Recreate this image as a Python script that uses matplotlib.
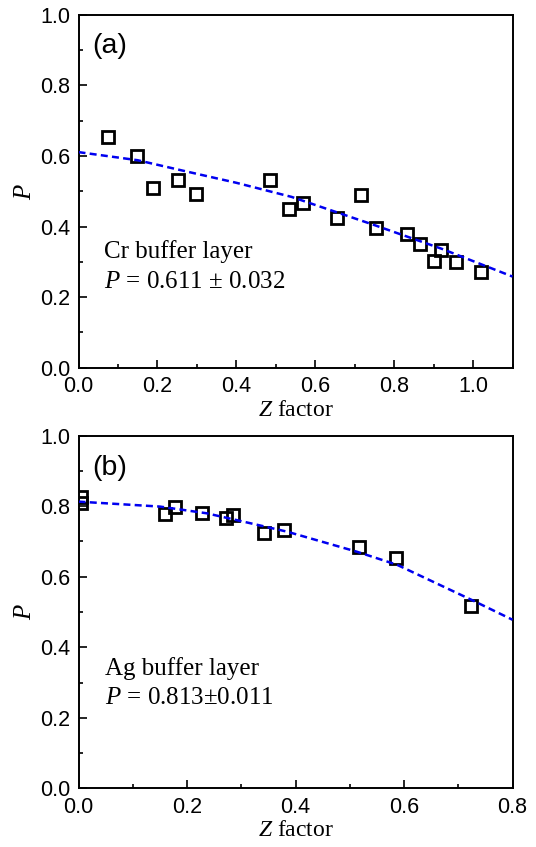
import matplotlib
matplotlib.use("Agg")
import matplotlib.pyplot as plt
from matplotlib.ticker import MultipleLocator

plt.rcParams['mathtext.fontset'] = 'custom'
plt.rcParams['mathtext.rm'] = 'Liberation Serif'
plt.rcParams['mathtext.it'] = 'Liberation Serif:italic'
plt.rcParams['font.family'] = ['Liberation Sans', 'DejaVu Sans']

# ---- Panel (a): Cr buffer layer ----
z_cr = [0.074, 0.149, 0.188, 0.253, 0.298, 0.486, 0.534, 0.568, 0.655,
        0.716, 0.755, 0.832, 0.865, 0.902, 0.919, 0.956, 1.019]
p_cr = [0.655, 0.600, 0.509, 0.533, 0.492, 0.531, 0.450, 0.468, 0.423,
        0.490, 0.396, 0.379, 0.350, 0.301, 0.334, 0.299, 0.271]
fit_z_cr = [0.0, 0.15, 0.27, 0.40, 0.54, 0.75, 0.92, 1.10]
fit_p_cr = [0.611, 0.588, 0.557, 0.524, 0.484, 0.404, 0.337, 0.258]

# ---- Panel (b): Ag buffer layer ----
z_ag = [0.005, 0.005, 0.159, 0.177, 0.228, 0.271, 0.285, 0.341, 0.378,
        0.517, 0.586, 0.724]
p_ag = [0.826, 0.810, 0.777, 0.799, 0.782, 0.766, 0.775, 0.725, 0.733,
        0.685, 0.652, 0.518]
fit_z_ag = [0.0, 0.15, 0.236, 0.316, 0.384, 0.513, 0.587, 0.725, 0.80]
fit_p_ag = [0.813, 0.799, 0.780, 0.752, 0.728, 0.671, 0.634, 0.534, 0.478]

yticks = [0.0, 0.2, 0.4, 0.6, 0.8, 1.0]
xticks_a = [0.0, 0.2, 0.4, 0.6, 0.8, 1.0]
xticks_b = [0.0, 0.2, 0.4, 0.6, 0.8]

fig = plt.figure(figsize=(5.36, 8.47), dpi=100)
ax_a = fig.add_axes([0.1465, 0.5661, 0.8097, 0.4162])
ax_b = fig.add_axes([0.1465, 0.0693, 0.8097, 0.4163])

serif = 'Liberation Serif'

def style(ax, xmax, xt):
    ax.set_xlim(0, xmax)
    ax.set_ylim(0, 1.0)
    ax.set_xticks(xt)
    ax.set_yticks(yticks)
    ax.set_xticklabels([f"{v:.1f}" for v in xt])
    ax.set_yticklabels([f"{v:.1f}" for v in yticks])
    ax.xaxis.set_minor_locator(MultipleLocator(0.1))
    ax.yaxis.set_minor_locator(MultipleLocator(0.1))
    ax.tick_params(which='both', direction='in', top=False, right=False,
                   width=1.2, labelsize=15.5)
    ax.tick_params(axis='x', which='both', pad=6)
    ax.tick_params(axis='y', which='both', pad=6)
    ax.tick_params(which='major', length=5.5)
    ax.tick_params(which='minor', length=2.8)
    for s in ax.spines.values():
        s.set_linewidth(1.4)
    ax.set_xlabel('$Z$ factor', fontfamily=serif, fontsize=17, labelpad=2)
    ax.set_ylabel('$P$', fontfamily=serif, fontsize=18, labelpad=3)

def draw(ax, z, p, fz, fp):
    ax.plot(z, p, linestyle='none', marker='s', markersize=8,
            markerfacecolor='none', markeredgecolor='black',
            markeredgewidth=2.0, zorder=2)
    ax.plot(fz, fp, color='#0000f0', linewidth=1.8, dashes=(2.8, 1.7), zorder=3)

draw(ax_a, z_cr, p_cr, fit_z_cr, fit_p_cr)
style(ax_a, 1.1, xticks_a)
ax_a.text(0.031, 0.911, '(a)', transform=ax_a.transAxes, fontsize=20.5,
          va='center', ha='left')
ax_a.text(0.065, 0.31, 'Cr buffer layer', fontfamily=serif, fontsize=18)
ax_a.text(0.065, 0.226, '$P$ = 0.611 ± 0.032', fontfamily=serif, fontsize=18)

draw(ax_b, z_ag, p_ag, fit_z_ag, fit_p_ag)
style(ax_b, 0.8, xticks_b)
ax_b.text(0.031, 0.907, '(b)', transform=ax_b.transAxes, fontsize=20.5,
          va='center', ha='left')
ax_b.text(0.049, 0.321, 'Ag buffer layer', fontfamily=serif, fontsize=18)
ax_b.text(0.049, 0.239, '$P$ = 0.813±0.011', fontfamily=serif, fontsize=18)

fig.savefig('out.png', dpi=100)
